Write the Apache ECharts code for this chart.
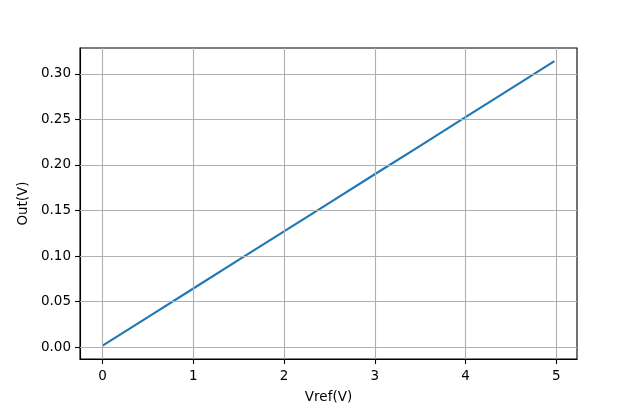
<!DOCTYPE html>
<html>
<head>
<meta charset="utf-8">
<script src="https://cdn.jsdelivr.net/npm/echarts@6/dist/echarts.min.js"></script>
<style>html,body{margin:0;padding:0;background:#fff;overflow:hidden}#c{width:640px;height:409px}</style>
</head>
<body>
<div id="c"></div>
<script>
const vref = [0, 0.5, 1, 1.5, 2, 2.5, 3, 3.5, 4, 4.5, 4.98];
const out = [0.0017, 0.0330, 0.0644, 0.0957, 0.1270, 0.1584, 0.1898, 0.2210, 0.2524, 0.2838, 0.3139];
const xTicks = [0, 1, 2, 3, 4, 5];
const yTicks = [0, 0.05, 0.10, 0.15, 0.20, 0.25, 0.30];

const font = 'DejaVu Sans';
const chart = echarts.init(document.getElementById('c'), null, {renderer: 'canvas'});
const gridLines = xTicks.map(v => ({xAxis: v})).concat(yTicks.map(v => ({yAxis: v})));
chart.setOption({
  animation: false,
  backgroundColor: '#fff',
  grid: {left: 80, right: 63, top: 48, bottom: 45, show: true, borderColor: '#000', borderWidth: 1.1, backgroundColor: 'transparent'},
  xAxis: {
    type: 'value', min: -0.249, max: 5.229,
    name: 'Vref(V)', nameLocation: 'middle', nameGap: 31,
    nameTextStyle: {fontFamily: font, fontSize: 13.5, color: '#000'},
    axisLine: {show: true, onZero: false, lineStyle: {color: '#000', width: 1.1}},
    axisTick: {show: true, customValues: xTicks, length: 5, lineStyle: {color: '#000', width: 1.1}},
    axisLabel: {customValues: xTicks, fontFamily: font, fontSize: 13.5, color: '#000', margin: 10},
    splitLine: {show: false}
  },
  yAxis: {
    type: 'value', min: -0.0130, max: 0.3284,
    name: 'Out(V)', nameLocation: 'middle', nameGap: 47, nameRotate: 90,
    nameTextStyle: {fontFamily: font, fontSize: 13.5, color: '#000'},
    axisLine: {show: true, onZero: false, lineStyle: {color: '#000', width: 1.1}},
    axisTick: {show: true, customValues: yTicks, length: 5, lineStyle: {color: '#000', width: 1.1}},
    axisLabel: {customValues: yTicks, fontFamily: font, fontSize: 13.5, color: '#000', margin: 9,
      formatter: v => v.toFixed(2)},
    splitLine: {show: false}
  },
  series: [
    {
      type: 'line', data: [], z: 1, silent: true,
      markLine: {silent: true, symbol: ['none', 'none'], label: {show: false},
        lineStyle: {color: '#b0b0b0', width: 1.1, type: 'solid'}, emphasis: {disabled: true},
        data: gridLines}
    },
    {
      type: 'line', z: 3, showSymbol: false, symbol: 'none',
      data: vref.map((x, i) => [x, out[i]]),
      lineStyle: {color: '#1f77b4', width: 2.1}
    }
  ]
});
</script>
</body>
</html>
